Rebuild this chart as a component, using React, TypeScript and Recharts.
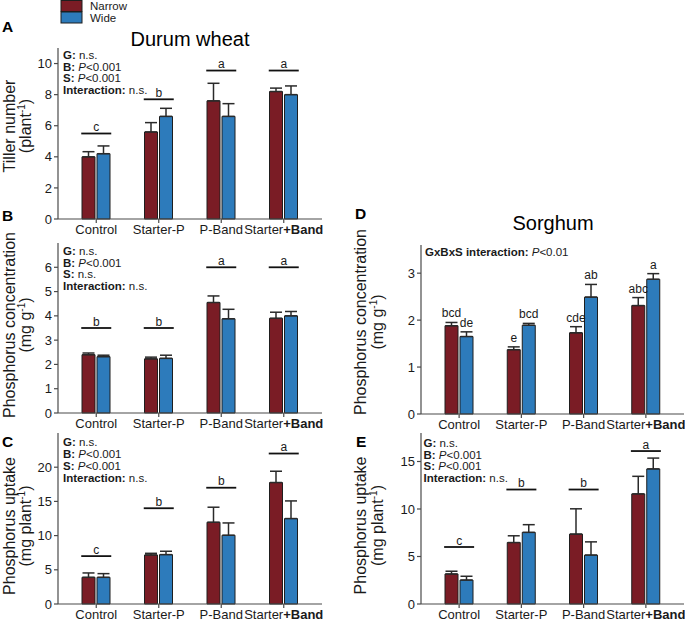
import React from "react";
import { ComposedChart, Bar, XAxis, YAxis, ErrorBar, Scatter, LabelList } from "recharts";

const treatments = ["Control", "Starter-P", "P-Band", "Starter+Band"];

// A: durum wheat, tiller number
const tillerNarrow = [4.0, 5.6, 7.6, 8.2];
const tillerNarrowErr = [0.33, 0.6, 1.13, 0.22];
const tillerWide = [4.2, 6.6, 6.6, 8.0];
const tillerWideErr = [0.5, 0.52, 0.82, 0.56];
const tillerSig = [5.5, 7.7, 9.55, 9.55];
const tillerLetters = ["c", "b", "a", "a"];
const tillerStats = [["G:", "n.s."], ["B:", "P<0.001"], ["S:", "P<0.001"], ["Interaction:", "n.s."]];

// B: durum wheat, P concentration
const wheatConcNarrow = [2.4, 2.23, 4.55, 3.9];
const wheatConcNarrowErr = [0.07, 0.07, 0.27, 0.25];
const wheatConcWide = [2.32, 2.25, 3.88, 4.0];
const wheatConcWideErr = [0.06, 0.13, 0.39, 0.18];
const wheatConcSig = [3.5, 3.5, 6.0, 6.0];
const wheatConcLetters = ["b", "b", "a", "a"];
const wheatConcStats = [["G:", "n.s."], ["B:", "P<0.001"], ["S:", "n.s."], ["Interaction:", "n.s."]];

// C: durum wheat, P uptake
const wheatUptNarrow = [3.9, 7.17, 11.95, 17.76];
const wheatUptNarrowErr = [0.64, 0.24, 2.2, 1.65];
const wheatUptWide = [3.9, 7.22, 10.05, 12.49];
const wheatUptWideErr = [0.54, 0.49, 1.8, 2.58];
const wheatUptSig = [7.0, 14.0, 17.0, 22.0];
const wheatUptLetters = ["c", "b", "b", "a"];
const wheatUptStats = [["G:", "n.s."], ["B:", "P<0.001"], ["S:", "P<0.001"], ["Interaction:", "n.s."]];

// D: sorghum, P concentration
const sorgConcNarrow = [1.88, 1.37, 1.73, 2.31];
const sorgConcNarrowErr = [0.07, 0.06, 0.13, 0.17];
const sorgConcWide = [1.65, 1.89, 2.49, 2.87];
const sorgConcWideErr = [0.1, 0.04, 0.27, 0.12];
const sorgConcNarrowLetters = ["bcd", "e", "cde", "abc"];
const sorgConcWideLetters = ["de", "bcd", "ab", "a"];
const sorgConcStats = [["GxBxS interaction:", "P<0.01"]];

// E: sorghum, P uptake
const sorgUptNarrow = [3.16, 6.47, 7.36, 11.59];
const sorgUptNarrowErr = [0.29, 0.71, 2.66, 1.85];
const sorgUptWide = [2.52, 7.54, 5.15, 14.22];
const sorgUptWideErr = [0.4, 0.81, 1.39, 1.14];
const sorgUptSig = [6.0, 12.05, 12.05, 16.1];
const sorgUptLetters = ["c", "b", "b", "a"];
const sorgUptStats = [["G:", "n.s."], ["B:", "P<0.001"], ["S:", "P<0.001"], ["Interaction:", "n.s."]];

const FONT = "'Liberation Sans', Arial, sans-serif";
const NARROW = "#7a1c25";
const WIDE = "#2d7bbb";
const INK = "#1a1a1a";
const FRAME = "#4a4a4a";
const AXIS_W = 36;
const X_H = 24;

function buildRows(n, ne, w, we, sig, letters, nl, wl) {
  return treatments.map((name, i) => ({
    name,
    narrow: n[i],
    narrowErr: [0, ne[i]],
    narrowSe: ne[i],
    wide: w[i],
    wideErr: [0, we[i]],
    wideSe: we[i],
    sig: sig ? sig[i] : undefined,
    letter: letters ? letters[i] : undefined,
    narrowLetter: nl ? nl[i] : undefined,
    wideLetter: wl ? wl[i] : undefined,
  }));
}

function TreatmentTick(props) {
  const { x, y, payload } = props;
  const label = String(payload.value);
  const plus = label.indexOf("+");
  return (
    <text x={x} y={y} dy="0.71em" textAnchor="middle" fontSize={13} fill={INK} fontFamily={FONT}>
      {plus < 0 ? (
        label
      ) : (
        <>
          <tspan>{label.slice(0, plus)}</tspan>
          <tspan fontWeight="bold">{label.slice(plus)}</tspan>
        </>
      )}
    </text>
  );
}

function SigMark(props) {
  const { cx, cy, payload } = props;
  if (cx == null || cy == null) return null;
  return (
    <g>
      <line x1={cx - 15} x2={cx + 15} y1={cy} y2={cy} stroke="#111" strokeWidth={1.8} />
      <text x={cx} y={cy - 2.5} textAnchor="middle" fontSize={12} fill={INK} fontFamily={FONT}>
        {payload.letter}
      </text>
    </g>
  );
}

const barLetter = (rows, valueKey, seKey) => (props) => {
  const vb = props.viewBox || props;
  const row = rows[props.index];
  if (!row || !vb) return null;
  const pxPerUnit = vb.height / row[valueKey];
  const top = vb.y - row[seKey] * pxPerUnit;
  return (
    <text x={vb.x + vb.width / 2} y={top - 5} textAnchor="middle" fontSize={12} fill={INK} fontFamily={FONT}>
      {props.value}
    </text>
  );
};

function Panel({ rows, domain, ticks, box, sig, barLetters }) {
  return (
    <div style={{ position: "absolute", left: box.left - AXIS_W, top: box.top - 1 }}>
      <ComposedChart
        width={AXIS_W + box.width + 1}
        height={box.height + 1 + X_H}
        data={rows}
        margin={{ top: 1, right: 1, bottom: 0, left: 0 }}
        barSize={13}
        barGap={2}
      >
        <XAxis
          dataKey="name"
          padding={{ left: 7, right: 7 }}
          height={X_H}
          tickSize={4}
          tickMargin={2}
          interval={0}
          tick={<TreatmentTick />}
          stroke={FRAME}
          strokeWidth={1.2}
        />
        <XAxis
          xAxisId="top"
          dataKey="name"
          orientation="top"
          height={0}
          tick={false}
          tickLine={false}
          stroke={FRAME}
          strokeWidth={1.2}
        />
        <YAxis
          domain={domain}
          ticks={ticks}
          width={AXIS_W}
          tickSize={4}
          tickMargin={2}
          interval={0}
          tick={{ fontSize: 13, fill: INK, fontFamily: FONT }}
          stroke={FRAME}
          strokeWidth={1.2}
        />
        <YAxis
          yAxisId="right"
          orientation="right"
          width={0}
          domain={[0, 1]}
          tick={false}
          tickLine={false}
          stroke={FRAME}
          strokeWidth={1.2}
        />
        <Bar dataKey="narrow" fill={NARROW} stroke="#1e1e1e" strokeWidth={1} isAnimationActive={false}>
          <ErrorBar dataKey="narrowErr" width={6} stroke="#2a2a2a" strokeWidth={1.5} />
          {barLetters && <LabelList dataKey="narrowLetter" content={barLetter(rows, "narrow", "narrowSe")} />}
        </Bar>
        <Bar dataKey="wide" fill={WIDE} stroke="#1e1e1e" strokeWidth={1} isAnimationActive={false}>
          <ErrorBar dataKey="wideErr" width={6} stroke="#2a2a2a" strokeWidth={1.5} />
          {barLetters && <LabelList dataKey="wideLetter" content={barLetter(rows, "wide", "wideSe")} />}
        </Bar>
        {sig && <Scatter dataKey="sig" shape={<SigMark />} isAnimationActive={false} />}
      </ComposedChart>
    </div>
  );
}

function Stats({ x, y, lines }) {
  return (
    <text fontSize={11.5} fill={INK} fontFamily={FONT} style={{ whiteSpace: "pre" }}>
      {lines.map(([k, v], i) => (
        <tspan key={i}>
          <tspan x={x} y={y + i * 11.7} fontWeight="bold">
            {k}
          </tspan>
          {v.startsWith("P") ? (
            <>
              <tspan fontStyle="italic">{" P"}</tspan>
              <tspan>{v.slice(1)}</tspan>
            </>
          ) : (
            <tspan>{" " + v}</tspan>
          )}
        </tspan>
      ))}
    </text>
  );
}

function YLabel({ x1, x2, cy, main, unit }) {
  return (
    <g fontSize={16} fill={INK} fontFamily={FONT}>
      <text x={x1} y={cy} textAnchor="middle" transform={`rotate(-90 ${x1} ${cy})`}>
        {main}
      </text>
      <text x={x2} y={cy} textAnchor="middle" transform={`rotate(-90 ${x2} ${cy})`}>
        {"(" + unit}
        <tspan dy={-6} fontSize={10}>
          -1
        </tspan>
        <tspan dy={6}>)</tspan>
      </text>
    </g>
  );
}

export default function App() {
  const tillerRows = buildRows(tillerNarrow, tillerNarrowErr, tillerWide, tillerWideErr, tillerSig, tillerLetters);
  const wheatConcRows = buildRows(wheatConcNarrow, wheatConcNarrowErr, wheatConcWide, wheatConcWideErr, wheatConcSig, wheatConcLetters);
  const wheatUptRows = buildRows(wheatUptNarrow, wheatUptNarrowErr, wheatUptWide, wheatUptWideErr, wheatUptSig, wheatUptLetters);
  const sorgConcRows = buildRows(sorgConcNarrow, sorgConcNarrowErr, sorgConcWide, sorgConcWideErr, null, null, sorgConcNarrowLetters, sorgConcWideLetters);
  const sorgUptRows = buildRows(sorgUptNarrow, sorgUptNarrowErr, sorgUptWide, sorgUptWideErr, sorgUptSig, sorgUptLetters);

  return (
    <div style={{ position: "relative", width: 685, height: 623, overflow: "hidden", background: "#fff", fontFamily: FONT }}>
      <style>{"body{margin:0}"}</style>
      <Panel rows={tillerRows} domain={[0, 11]} ticks={[0, 2, 4, 6, 8, 10]} box={{ left: 58, top: 48, width: 264, height: 171 }} sig />
      <Panel rows={wheatConcRows} domain={[0, 7]} ticks={[0, 1, 2, 3, 4, 5, 6]} box={{ left: 58, top: 243, width: 264, height: 170 }} sig />
      <Panel rows={wheatUptRows} domain={[0, 25]} ticks={[0, 5, 10, 15, 20]} box={{ left: 58, top: 433, width: 264, height: 171 }} sig />
      <Panel rows={sorgConcRows} domain={[0, 3.6]} ticks={[0, 1, 2, 3]} box={{ left: 421, top: 245, width: 263, height: 169 }} barLetters />
      <Panel rows={sorgUptRows} domain={[0, 18]} ticks={[0, 5, 10, 15]} box={{ left: 421, top: 433, width: 263, height: 171 }} sig />

      <svg width={685} height={623} style={{ position: "absolute", left: 0, top: 0, pointerEvents: "none" }}>
        <rect x={61} y={0.5} width={21} height={11} fill={NARROW} stroke="#1e1e1e" />
        <rect x={61} y={12} width={21} height={11} fill={WIDE} stroke="#1e1e1e" />
        <text x={90} y={10} fontSize={11.5} fill={INK} fontFamily={FONT}>Narrow</text>
        <text x={90} y={21.7} fontSize={11.5} fill={INK} fontFamily={FONT}>Wide</text>

        <g fontSize={15.5} fontWeight="bold" fill="#000" fontFamily={FONT}>
          <text x={2} y={32}>A</text>
          <text x={2} y={221}>B</text>
          <text x={2} y={446.5}>C</text>
          <text x={355} y={218.5}>D</text>
          <text x={356} y={446.5}>E</text>
        </g>

        <text x={190} y={46} textAnchor="middle" fontSize={20} fill="#000" fontFamily={FONT}>Durum wheat</text>
        <text x={553} y={230} textAnchor="middle" fontSize={20} fill="#000" fontFamily={FONT}>Sorghum</text>

        <YLabel x1={15} x2={30.5} cy={126} main="Tiller number" unit="plant" />
        <YLabel x1={15} x2={30.5} cy={325} main="Phosphorus concentration" unit="mg g" />
        <YLabel x1={15} x2={30.5} cy={526} main="Phosphorus uptake" unit="mg plant" />
        <YLabel x1={365.5} x2={382.5} cy={322} main="Phosphorus concentration" unit="mg g" />
        <YLabel x1={365.5} x2={382.5} cy={525.5} main="Phosphorus uptake" unit="mg plant" />

        <Stats x={63} y={59} lines={tillerStats} />
        <Stats x={63} y={254.8} lines={wheatConcStats} />
        <Stats x={63} y={446.4} lines={wheatUptStats} />
        <Stats x={425} y={255.8} lines={sorgConcStats} />
        <Stats x={423.5} y={446.8} lines={sorgUptStats} />
      </svg>
    </div>
  );
}
